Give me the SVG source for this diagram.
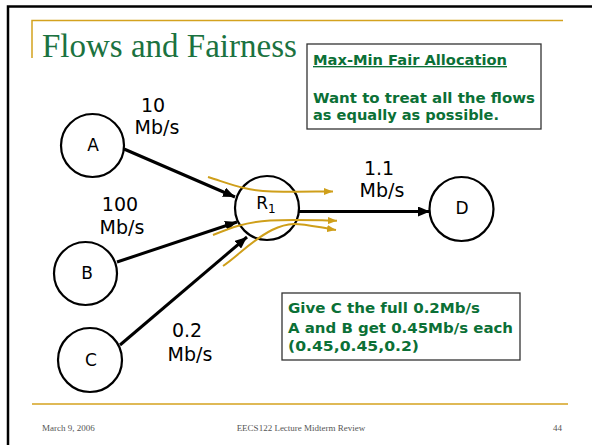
<svg xmlns="http://www.w3.org/2000/svg" width="592" height="445" viewBox="0 0 592 445">
  <defs>
    <marker id="arrowBlack" markerWidth="12" markerHeight="10" refX="12" refY="5" orient="auto" markerUnits="userSpaceOnUse">
      <path d="M0,0 L12,5 L0,10 Z" fill="#000"/>
    </marker>
    <marker id="arrowGold" markerWidth="9" markerHeight="7" refX="9" refY="3.5" orient="auto" markerUnits="userSpaceOnUse">
      <path d="M0,0 L9,3.5 L0,7 Z" fill="#CF9F1A"/>
    </marker>
    <style>
      .frame { stroke: #000; stroke-width: 2.5; fill: none; }
      .rule { stroke: #D4A21E; stroke-width: 1.5; fill: none; }
      .title { font-family: "Liberation Serif", "DejaVu Serif", serif; font-size: 33px; fill: #1B7240; }
      .node circle { fill: #fff; stroke: #000; stroke-width: 2.2; }
      .node text { font-family: "DejaVu Sans", sans-serif; font-size: 17px; fill: #000; text-anchor: middle; }
      .label { font-family: "DejaVu Sans", sans-serif; font-size: 19px; fill: #000; text-anchor: middle; }
      .edge { stroke: #000; stroke-width: 3; fill: none; marker-end: url(#arrowBlack); }
      .flow { stroke: #CF9F1A; stroke-width: 2; fill: none; marker-end: url(#arrowGold); }
      .box { fill: #fff; stroke: #333; stroke-width: 1.3; }
      .note { font-family: "DejaVu Sans", sans-serif; font-weight: bold; font-size: 13.5px; fill: #0B7036; }
      .foot { font-family: "Liberation Serif", "DejaVu Serif", serif; font-size: 9px; fill: #555; }
    </style>
  </defs>

  <rect width="592" height="445" fill="#fff"/>

  <!-- slide frame and rules -->
  <path class="frame" d="M8,445 V6.5 H592"/>
  <path class="rule" d="M32,58 V20.5 H563"/>
  <path class="rule" d="M32,404 H568"/>

  <text class="title" x="42" y="57">Flows and Fairness</text>

  <!-- connectors -->
  <g id="connectors">
    <line class="edge" x1="124" y1="149" x2="235" y2="197"/>
    <line class="edge" x1="117" y1="262" x2="237" y2="222"/>
    <line class="edge" x1="120" y1="345" x2="247" y2="237"/>
    <line class="edge" x1="299" y1="211.5" x2="430" y2="211.5"/>
  </g>

  <!-- nodes -->
  <g id="node-A" class="node">
    <circle cx="92.5" cy="145.5" r="31.5"/>
    <text x="93" y="151">A</text>
  </g>
  <g id="node-B" class="node">
    <circle cx="85.5" cy="273.5" r="31.5"/>
    <text x="87" y="279">B</text>
  </g>
  <g id="node-C" class="node">
    <circle cx="90" cy="360" r="32"/>
    <text x="91" y="366">C</text>
  </g>
  <g id="node-R1" class="node">
    <circle cx="267" cy="208" r="32"/>
    <text x="266" y="209">R<tspan font-size="12" dy="4">1</tspan></text>
  </g>
  <g id="node-D" class="node">
    <circle cx="461.5" cy="209" r="32"/>
    <text x="462" y="214">D</text>
  </g>

  <!-- flows through the router -->
  <g id="flows">
    <path class="flow" d="M208,177 C228,183 245,191 272,191.5 S315,191.5 333,191.5"/>
    <path class="flow" d="M213,235 C230,228 245,222 270,220.5 S320,220.5 337,220.7"/>
    <path class="flow" d="M223,266 C238,256 252,240 272,230 S300,224 336,230"/>
  </g>

  <!-- rate labels -->
  <g id="rate-labels">
    <text class="label" x="153" y="112">10</text>
    <text class="label" x="157" y="134">Mb/s</text>
    <text class="label" x="120" y="211">100</text>
    <text class="label" x="122" y="234">Mb/s</text>
    <text class="label" x="187" y="337">0.2</text>
    <text class="label" x="190" y="361">Mb/s</text>
    <text class="label" x="379" y="175">1.1</text>
    <text class="label" x="382" y="197">Mb/s</text>
  </g>

  <!-- note boxes -->
  <g id="note-maxmin">
    <rect class="box" x="307" y="44" width="234" height="85"/>
    <text class="note" x="313" y="65" textLength="194" lengthAdjust="spacingAndGlyphs" text-decoration="underline">Max-Min Fair Allocation</text>
    <text class="note" x="313" y="103" textLength="222" lengthAdjust="spacingAndGlyphs">Want to treat all the flows</text>
    <text class="note" x="313" y="120" textLength="186" lengthAdjust="spacingAndGlyphs">as equally as possible.</text>
  </g>
  <g id="note-result">
    <rect class="box" x="282" y="293" width="238" height="67"/>
    <text class="note" x="288" y="313" textLength="192" lengthAdjust="spacingAndGlyphs">Give C the full 0.2Mb/s</text>
    <text class="note" x="288" y="333" textLength="225" lengthAdjust="spacingAndGlyphs">A and B get 0.45Mb/s each</text>
    <text class="note" x="288" y="351" textLength="131" lengthAdjust="spacingAndGlyphs">(0.45,0.45,0.2)</text>
  </g>

  <!-- footer -->
  <text class="foot" x="42" y="431">March 9, 2006</text>
  <text class="foot" x="301" y="431" text-anchor="middle">EECS122 Lecture Midterm Review</text>
  <text class="foot" x="562" y="431" text-anchor="end">44</text>
</svg>
